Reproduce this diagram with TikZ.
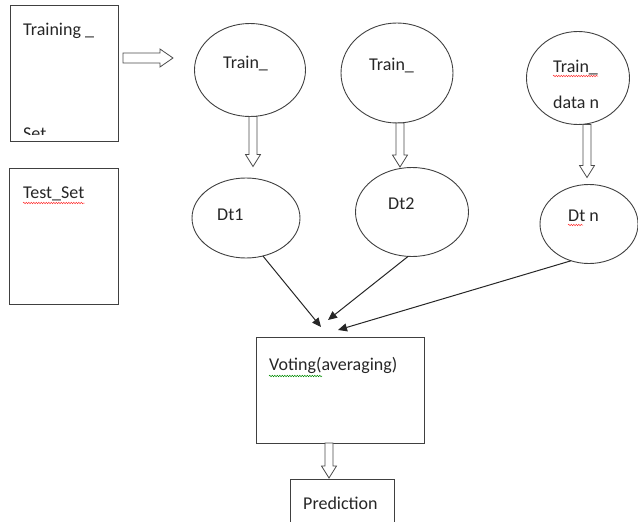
\documentclass[tikz,border=0pt]{standalone}
\usepackage{fontspec}
\setmainfont{Carlito}
\usetikzlibrary{shapes.geometric,arrows.meta,decorations.pathmorphing,calc}
\newcommand\hdown[2]{\draw[hollow] (#1) ++(-4,0) -- ++(0,#2-12) -- ++(-3.5,0) -- ++(7.5,12) -- ++(7.5,-12) -- ++(-3.5,0) -- ++(0,12-#2) -- cycle;}
\begin{document}
\begin{tikzpicture}[x=1pt,y=-1pt,
  box/.style={draw=black!75, line width=1pt, inner sep=0pt, outer sep=0pt, anchor=north west},
  oval/.style={draw=black!75, ellipse, line width=0.9pt, inner sep=0pt, outer sep=0pt},
  lbl/.style={anchor=base west, inner sep=0pt, text=black!85, font=\fontsize{18}{20}\selectfont},
  hollow/.style={draw=black!70, line width=0.8pt, fill=white},
  vote/.style={draw=black!85, line width=1pt, -{Triangle[length=9pt,width=8pt]}},
  squig/.style={line width=0.5pt, decorate, decoration={snake, amplitude=0.7pt, segment length=2.5pt}}]
\useasboundingbox (0,0) rectangle (638,522);
\clip (0,0) rectangle (638,522);
% boxes
\node[box, minimum width=108pt, minimum height=136pt] (train) at (10,5) {};
\node[box, minimum width=109pt, minimum height=136pt] (test) at (9,168) {};
\node[box, minimum width=168pt, minimum height=106pt] (vote) at (256,337) {};
\node[box, minimum width=104pt, minimum height=60pt] (pred) at (290,479) {};
% ellipses
\node[oval, minimum width=111pt, minimum height=93pt] (e1) at (250,70) {};
\node[oval, minimum width=112pt, minimum height=100pt] (e2) at (397,73) {};
\node[oval, minimum width=103pt, minimum height=93pt] (e3) at (578,78) {};
\node[oval, minimum width=108pt, minimum height=80pt] (d1) at (246,218) {};
\node[oval, minimum width=113pt, minimum height=89pt] (d2) at (412,212) {};
\node[oval, minimum width=98pt, minimum height=79pt] (dn) at (589,224) {};
% labels
\node[lbl] (l1) at (23,35) {Training \_};
\begin{scope}
\clip (10,5) rectangle (118,134);
\node[lbl] (l1b) at (23,139) {Set};
\end{scope}
\node[lbl] (l2) at (23,198) {Test\_Set};
\node[lbl] (l3) at (223,68) {Train\_};
\node[lbl] (l4) at (369,70) {Train\_};
\node[lbl] (l5) at (553,72) {Train\_};
\node[lbl] (l6) at (553,108) {data n};
\node[lbl] (l7) at (217,220) {Dt1};
\node[lbl] (l8) at (388,209) {Dt2};
\node[lbl] (l9) at (568,221) {Dt n};
\node[lbl] (l10) at (269,370) {Voting(averaging)};
\node[lbl] (l11) at (303,509) {Prediction};
% spell-check squiggles
\draw[squig, red!80] ($(l2.base west)+(0,5)$) -- ($(l2.base east)+(0,5)$);
\draw[squig, red!80] ($(l5.base west)+(0,4)$) -- ($(l5.base east)+(0,4)$);
\draw[squig, red!80] ($(l9.base west)+(0,4)$) -- ++(15,0);
\draw[squig, green!55!black] ($(l10.base west)+(0,6)$) -- ++(53,0);
% hollow arrows
\coordinate (h0) at (123,58);
\draw[hollow] (h0) ++(0,-5) -- ++(37,0) -- ++(0,-4) -- ++(13,9) -- ++(-13,9) -- ++(0,-4) -- ++(-37,0) -- cycle;
\coordinate (a1) at ($(e1.south)+(3,0)$);
\coordinate (a2) at ($(e2.south)+(3,0)$);
\coordinate (a3) at ($(e3.south)+(9,0)$);
\coordinate (a4) at ($(vote.south)+(-11,0)$);
\hdown{a1}{50}
\hdown{a2}{44}
\hdown{a3}{53}
\hdown{a4}{35}
% voting arrows
\coordinate (t1) at (321,327);
\coordinate (t2) at (328,320);
\coordinate (t3) at (338,330);
\draw[vote] (d1.-66) -- (t1);
\draw[vote] (d2.-95) -- (t2);
\draw[vote] (dn.-116) -- (t3);
\end{tikzpicture}
\end{document}
